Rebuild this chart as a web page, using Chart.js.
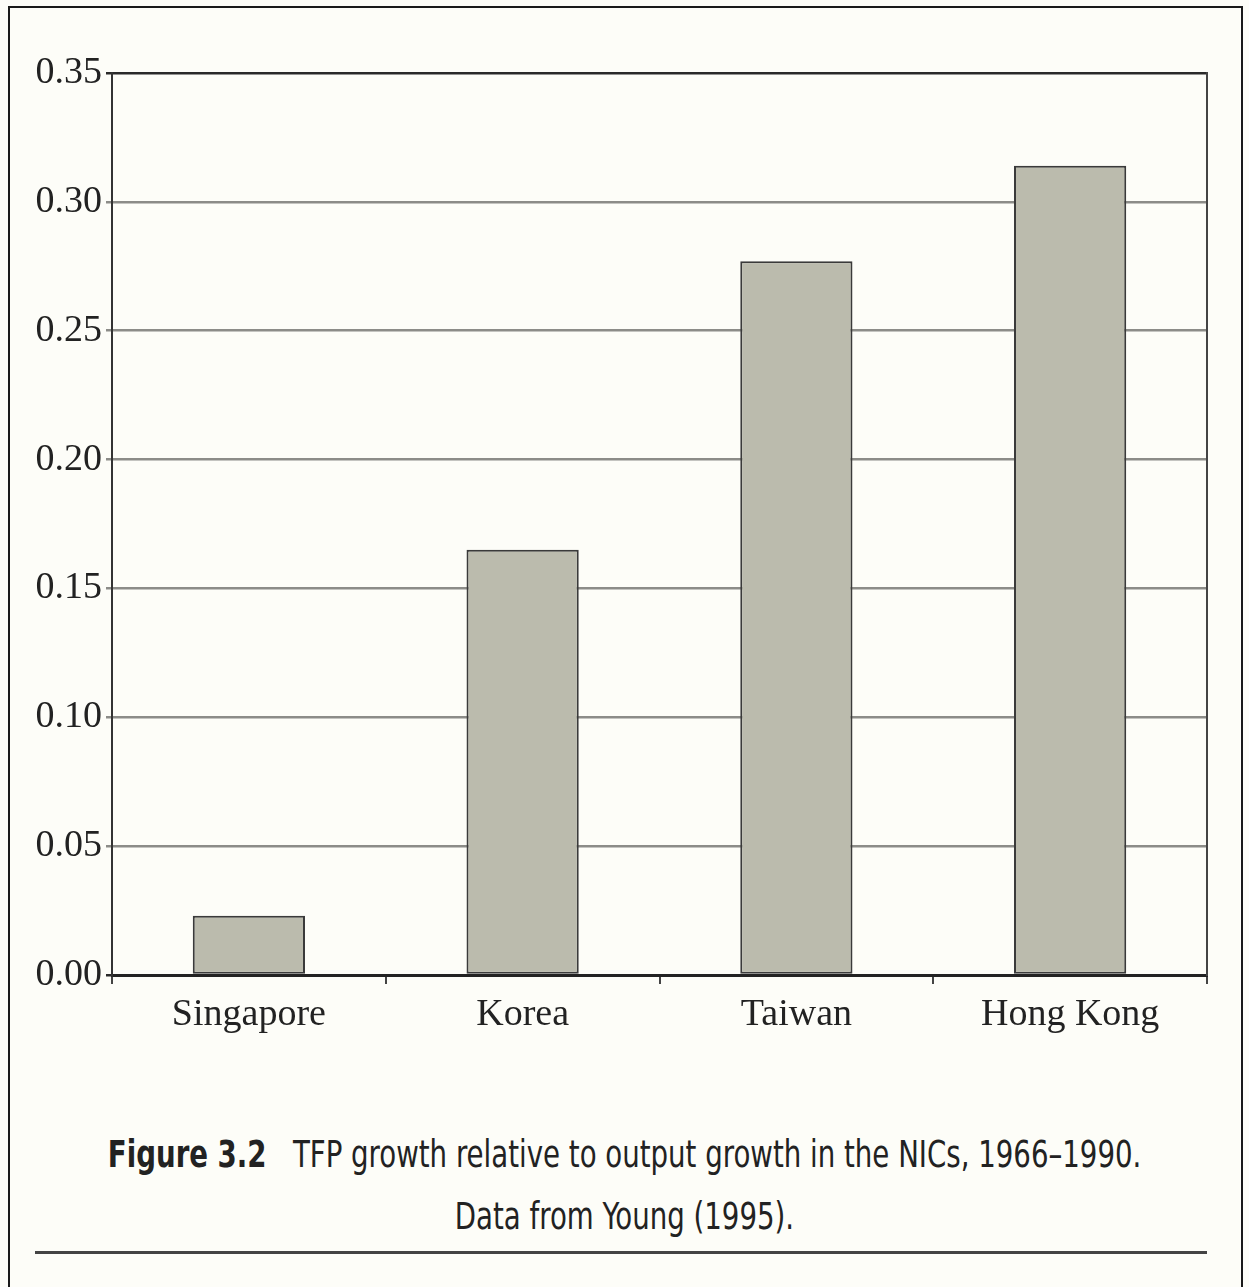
<!DOCTYPE html>
<html>
<head>
<meta charset="utf-8">
<script src="https://cdn.jsdelivr.net/npm/chart.js@4"></script>
<style>
  html, body { margin: 0; padding: 0; background: #fdfdf8; overflow: hidden; }
  #frame {
    position: absolute; left: 8px; top: 6px; width: 1235px; height: 1300px;
    border: 2px solid #1a1a1a; box-sizing: border-box;
  }
  #wrap { position: absolute; left: 0; top: 0; width: 1249px; height: 1060px; }
  .cap {
    position: absolute; left: 0; width: 1249px; text-align: center; white-space: nowrap;
    font-family: "DejaVu Sans Condensed", "DejaVu Sans", sans-serif;
    font-size: 37px; color: #222;
  }
  .cap span { display: inline-block; transform: scaleX(0.83); transform-origin: center; }
  #rule {
    position: absolute; left: 35px; width: 1172px; top: 1251px; height: 3px; background: #444;
  }
</style>
</head>
<body>
<div id="frame"></div>
<div id="wrap"><canvas id="myChart"></canvas></div>
<div class="cap" style="top:1133px;"><span><b>Figure 3.2</b>&nbsp;&nbsp;&nbsp;TFP growth relative to output growth in the NICs, 1966–1990.</span></div>
<div class="cap" style="top:1195px;"><span>Data from Young (1995).</span></div>
<div id="rule"></div>

<script>
// data
var countries = ["Singapore", "Korea", "Taiwan", "Hong Kong"];
var tfpShare = [0.023, 0.165, 0.277, 0.314];
var yTicks = [0, 0.05, 0.10, 0.15, 0.20, 0.25, 0.30, 0.35];

var serif = '"Liberation Serif", "DejaVu Serif", serif';

var ctx = document.getElementById('myChart').getContext('2d');
var chart = new Chart(ctx, {
    type: 'bar',
    data: {
        labels: countries,
        datasets: [{
            label: "TFP growth / output growth",
            data: tfpShare,
            backgroundColor: '#bbbbad',
            borderColor: '#3a3a3a',
            borderWidth: 2,
            borderSkipped: false,
            barPercentage: 1,
            categoryPercentage: 0.41
        }]
    },
    options: {
        responsive: true,
        maintainAspectRatio: false,
        animation: false,
        layout: { padding: { left: 0, right: 42, top: 73, bottom: 0 } },
        plugins: {
            legend: { display: false },
            tooltip: { enabled: false }
        },
        scales: {
            x: {
                grid: { drawOnChartArea: false, drawTicks: true, tickLength: 9, color: '#444', lineWidth: 2 },
                border: { color: '#222', width: 3 },
                ticks: { color: '#222', padding: 8, font: { family: serif, size: 38 } },
                afterFit: function (s) { s.height = 85; }
            },
            y: {
                min: 0,
                max: 0.35,
                afterBuildTicks: function (s) {
                    s.ticks = yTicks.map(function (v) { return { value: v }; });
                },
                grid: {
                    tickLength: 6,
                    lineWidth: 2.5,
                    color: function (c) {
                        if (c.tick && (c.tick.value === 0.35 || c.tick.value === 0)) return '#2a2a2a';
                        return '#8c8c88';
                    }
                },
                border: { color: '#333', width: 2 },
                ticks: {
                    color: '#222',
                    padding: 4,
                    font: { family: serif, size: 38 },
                    callback: function (v) { return v.toFixed(2); }
                },
                afterFit: function (s) { s.width = 112; }
            },
            y2: {
                position: 'right',
                min: 0,
                max: 0.35,
                grid: { display: false },
                ticks: { display: false },
                border: { color: '#444', width: 2 },
                afterFit: function (s) { s.width = 0; }
            }
        }
    }
});
</script>
</body>
</html>
